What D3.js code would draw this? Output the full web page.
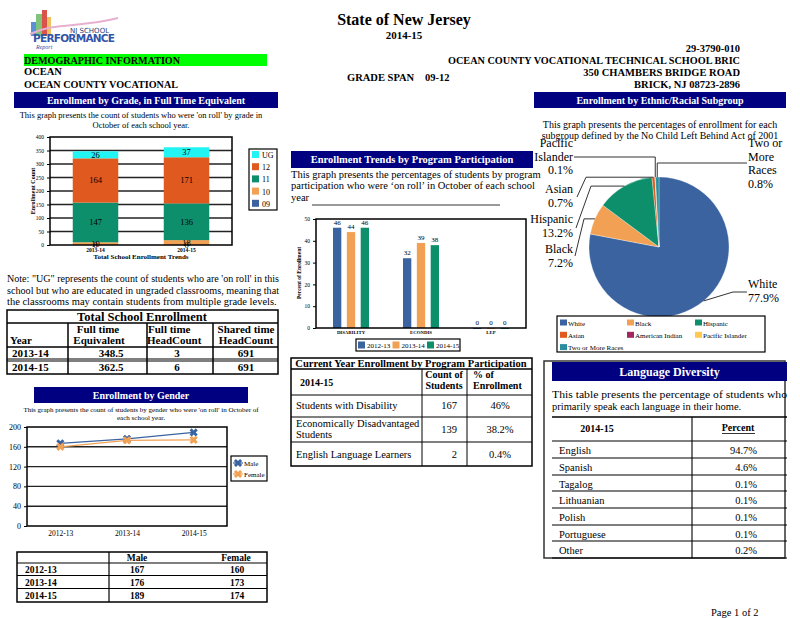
<!DOCTYPE html>
<html>
<head>
<meta charset="utf-8">
<script src="https://cdn.jsdelivr.net/npm/d3@7"></script>
<style>
  body { margin: 0; background: #fff; }
  svg { display: block; }
  text { font-family: "Liberation Serif", "Times New Roman", serif; fill: #000; }
</style>
</head>
<body>
<svg id="page" width="800" height="618"></svg>
<script>
// ---- data ----
const gradeYears = ["2013-14", "2014-15"];
const gradeKeys = ["09", "10", "11", "12", "UG"];
const grade09 = [0, 0];
const grade10 = [10, 18];
const grade11 = [147, 136];
const grade12 = [164, 171];
const gradeUG = [26, 37];
const gradeTicks = [0, 50, 100, 150, 200, 250, 300, 350, 400];

const tseYears = ["2013-14", "2014-15"];
const tseFTE = ["348.5", "362.5"];
const tseFullHead = [3, 6];
const tseSharedHead = [691, 691];

const genderYears = ["2012-13", "2013-14", "2014-15"];
const maleCounts = [167, 176, 189];
const femaleCounts = [160, 173, 174];
const genderTicks = [0, 40, 80, 120, 160, 200];

const programCats = ["DISABILITY", "ECONDIS", "LEP"];
const programYears = ["2012-13", "2013-14", "2014-15"];
const pct1213 = [46, 32, 0];
const pct1314 = [44, 39, 0];
const pct1415 = [46, 38, 0];
const programTicks = [0, 10, 20, 30, 40, 50];

const programRows = ["Students with Disability", "Economically Disadvantaged Students", "English Language Learners"];
const programCounts = [167, 139, 2];
const programShares = ["46%", "38.2%", "0.4%"];

const ethnicGroups = ["White", "Black", "Hispanic", "Asian", "American Indian", "Pacific Islander", "Two or More Races"];
const ethnicPct = [77.9, 7.2, 13.2, 0.7, 0, 0.1, 0.8];

const languages = ["English", "Spanish", "Tagalog", "Lithuanian", "Polish", "Portuguese", "Other"];
const languagePct = ["94.7%", "4.6%", "0.1%", "0.1%", "0.1%", "0.1%", "0.2%"];

// ---- colours ----
const navy = "#000080";
const blue = "#3a63a0", orange = "#f2a154", green = "#0e8f6b", red = "#e0591f", cyan = "#22f4f4";
const gradeColor = { "09": blue, "10": orange, "11": green, "12": red, "UG": cyan };
const ethnicColor = {
  "White": blue, "Black": orange, "Hispanic": green, "Asian": red,
  "American Indian": "#a3275f", "Pacific Islander": "#ffc94f", "Two or More Races": "#2a8d9e"
};
const yearColor = { "2012-13": blue, "2013-14": orange, "2014-15": green };

const svg = d3.select("#page");

// small helper for text
function txt(g, x, y, s, size, opts) {
  opts = opts || {};
  let t = g.append("text").attr("x", x).attr("y", y).text(s)
    .attr("font-size", size)
    .attr("text-anchor", opts.anchor || "start");
  if (opts.bold) t.attr("font-weight", "bold");
  if (opts.fill) t.style("fill", opts.fill);
  if (opts.len) t.attr("textLength", opts.len).attr("lengthAdjust", "spacingAndGlyphs");
  return t;
}
function rect(g, x, y, w, h, fill, stroke, sw) {
  return g.append("rect").attr("x", x).attr("y", y).attr("width", w).attr("height", h)
    .attr("fill", fill || "none").attr("stroke", stroke || "none").attr("stroke-width", sw || 1);
}
function line(g, x1, y1, x2, y2, sw, col) {
  return g.append("line").attr("x1", x1).attr("y1", y1).attr("x2", x2).attr("y2", y2)
    .attr("stroke", col || "#000").attr("stroke-width", sw || 1);
}
function banner(x, y, w, h, s, size) {
  rect(svg, x, y, w, h, navy);
  txt(svg, x + w / 2, y + h / 2 + size * 0.35, s, size, { anchor: "middle", bold: true, fill: "#fff" });
}

// ---- header ----
let logo = svg.append("g");
rect(logo, 31, 22, 5, 14, "#5b8fd6");
rect(logo, 36, 14, 6, 22, "#7fc47a");
rect(logo, 42, 10, 5, 26, "#d9534a");
rect(logo, 47, 17, 4, 19, "#f0c060");
logo.append("path").attr("d", "M30,34 C55,22 80,28 118,18").attr("fill", "none")
  .attr("stroke", "#e8b0d0").attr("stroke-width", 2);
logo.append("text").attr("x", 70).attr("y", 33).text("NJ SCHOOL")
  .attr("font-size", 7).style("font-family", "DejaVu Sans").style("fill", "#2a3f7a");
logo.append("text").attr("x", 33).attr("y", 42).text("PERFORMANCE")
  .attr("font-size", 10.5).attr("font-weight", "bold").attr("textLength", 82)
  .style("font-family", "DejaVu Sans").style("fill", "#3355a8");
logo.append("text").attr("x", 36).attr("y", 49).text("Report")
  .attr("font-size", 6).attr("font-style", "italic").style("fill", "#3355a8");

txt(svg, 404, 25, "State of New Jersey", 16, { anchor: "middle", bold: true });
txt(svg, 404, 39, "2014-15", 11, { anchor: "middle", bold: true });

rect(svg, 24, 54, 243, 12, "#00ff00");
txt(svg, 24, 64, "DEMOGRAPHIC INFORMATION", 10.5, { bold: true, len: 156 });
txt(svg, 24, 75, "OCEAN", 10.5, { bold: true });
txt(svg, 24, 88, "OCEAN COUNTY VOCATIONAL", 10.5, { bold: true, len: 154 });
txt(svg, 347, 81, "GRADE SPAN", 10.5, { bold: true });
txt(svg, 425, 81, "09-12", 10.5, { bold: true });
txt(svg, 740, 52, "29-3790-010", 10.5, { anchor: "end", bold: true });
txt(svg, 740, 64, "OCEAN COUNTY VOCATIONAL TECHNICAL SCHOOL BRIC", 10.5, { anchor: "end", bold: true, len: 292 });
txt(svg, 740, 76, "350 CHAMBERS BRIDGE ROAD", 10.5, { anchor: "end", bold: true });
txt(svg, 740, 88, "BRICK, NJ 08723-2896", 10.5, { anchor: "end", bold: true });

banner(14, 92, 264, 16, "Enrollment by Grade, in Full Time Equivalent", 10);
banner(534, 92, 252, 16, "Enrollment by Ethnic/Racial Subgroup", 10);

// ---- enrollment by grade (stacked bars) ----
txt(svg, 141, 118, "This graph presents the count of students who were 'on roll' by grade in", 8.5, { anchor: "middle" });
txt(svg, 141, 128, "October of each school year.", 8.5, { anchor: "middle" });

let gradeRows = gradeYears.map((y, i) => ({
  year: y, "09": grade09[i], "10": grade10[i], "11": grade11[i], "12": grade12[i], "UG": gradeUG[i]
}));
let xG = d3.scaleBand().domain(gradeYears).range([50, 232]).paddingInner(0.5).paddingOuter(0.25);
let yG = d3.scaleLinear().domain([0, 400]).range([245, 137]);
let gGrade = svg.append("g");
gradeTicks.slice(1, -1).forEach(t => line(gGrade, 50, yG(t), 232, yG(t), 1.6, "#222"));
let stacked = d3.stack().keys(gradeKeys)(gradeRows);
stacked.forEach(layer => {
  gGrade.selectAll(null).data(layer).join("rect")
    .attr("x", d => xG(d.data.year)).attr("width", xG.bandwidth())
    .attr("y", d => yG(d[1])).attr("height", d => yG(d[0]) - yG(d[1]))
    .attr("fill", gradeColor[layer.key]);
});
stacked.forEach(layer => {
  gGrade.selectAll(null).data(layer).join("text")
    .attr("x", d => xG(d.data.year) + xG.bandwidth() / 2)
    .attr("y", d => yG((d[0] + d[1]) / 2) + 3)
    .attr("text-anchor", "middle").attr("font-size", 8.5)
    .text(d => d[1] - d[0]);
});
rect(gGrade, 50, 137, 182, 108, "none", "#000", 1.5);
gGrade.append("g").attr("transform", "translate(50,0)")
  .call(d3.axisLeft(yG).tickValues(gradeTicks).tickSize(3))
  .call(a => { a.select(".domain").remove(); a.selectAll("text").attr("font-size", 5.5).style("font-family", "Liberation Serif"); });
gGrade.append("g").attr("transform", "translate(0,245)")
  .call(d3.axisBottom(xG).tickSize(0).tickPadding(3))
  .call(a => { a.select(".domain").remove(); a.selectAll("text").attr("font-size", 5.5).attr("font-weight", "bold").style("font-family", "Liberation Serif"); });
txt(gGrade, 0, 0, "Enrollment Count", 6, { anchor: "middle", bold: true })
  .attr("transform", "translate(35,191) rotate(-90)");
txt(gGrade, 141, 259, "Total School Enrollment Trends", 7, { anchor: "middle", bold: true });

// grade legend
rect(gGrade, 249, 149, 28, 61, "#fff", "#000", 1.2);
gradeKeys.slice().reverse().forEach((k, i) => {
  rect(gGrade, 252, 151 + i * 12.2, 7, 7, gradeColor[k]);
  txt(gGrade, 262, 158 + i * 12.2, k, 8);
});

// note
txt(svg, 7, 282, "Note: \"UG\" represents the count of students who are 'on roll'  in this", 10.5, { len: 272 });
txt(svg, 7, 294, "school but who are educated in ungraded classrooms, meaning that", 10.5, { len: 272 });
txt(svg, 7, 305, "the classrooms may contain students from multiple grade levels.", 10.5);

// ---- total school enrollment table ----
let gT = svg.append("g");
rect(gT, 7, 310, 271, 64, "none", "#000", 1.5);
line(gT, 7, 323, 278, 323, 1.5);
line(gT, 7, 347, 278, 347, 1.5);
line(gT, 7, 359, 278, 359, 1.2);
line(gT, 7, 361, 278, 361, 1.2);
[68, 147, 213].forEach(x => line(gT, x, 323, x, 374, 1.5));
txt(gT, 142, 321, "Total School Enrollment", 12.5, { anchor: "middle", bold: true });
txt(gT, 10, 344, "Year", 11, { bold: true });
txt(gT, 98, 333, "Full time", 11, { anchor: "middle", bold: true });
txt(gT, 99, 344, "Equivalent", 11, { anchor: "middle", bold: true });
txt(gT, 148, 333, "Full time", 11, { bold: true });
txt(gT, 147, 344, "HeadCount", 11, { bold: true });
txt(gT, 246, 333, "Shared time", 11, { anchor: "middle", bold: true });
txt(gT, 246, 344, "HeadCount", 11, { anchor: "middle", bold: true });
tseYears.forEach((y, i) => {
  let by = 357 + i * 14;
  txt(gT, 12, by, y, 11, { bold: true });
  txt(gT, 111, by, tseFTE[i], 11, { anchor: "middle", bold: true });
  txt(gT, 177, by, tseFullHead[i], 11, { anchor: "middle", bold: true });
  txt(gT, 246, by, tseSharedHead[i], 11, { anchor: "middle", bold: true });
});

// ---- enrollment by gender (lines) ----
banner(34, 387, 214, 16, "Enrollment by Gender", 10);
txt(svg, 141, 412, "This graph presents the count of students by gender who were 'on roll' in October of", 7, { anchor: "middle" });
txt(svg, 141, 420, "each school year.", 7, { anchor: "middle" });
let gG = svg.append("g");
let xS = d3.scalePoint().domain(genderYears).range([27, 227]).padding(0.5);
let yS = d3.scaleLinear().domain([0, 200]).range([526, 427]);
genderTicks.slice(1, -1).forEach(t => line(gG, 27, yS(t), 227, yS(t), 1.4, "#222"));
rect(gG, 27, 427, 200, 99, "none", "#000", 1.5);
gG.append("g").attr("transform", "translate(27,0)")
  .call(d3.axisLeft(yS).tickValues(genderTicks).tickSize(3))
  .call(a => { a.select(".domain").remove(); a.selectAll("text").attr("font-size", 8).style("font-family", "Liberation Serif"); });
gG.append("g").attr("transform", "translate(0,526)")
  .call(d3.axisBottom(xS).tickSize(0).tickPadding(5))
  .call(a => { a.select(".domain").remove(); a.selectAll("text").attr("font-size", 7.5).style("font-family", "Liberation Serif"); });
let marker = d3.symbol().type(d3.symbolCross).size(42);
[[maleCounts, blue, "Male"], [femaleCounts, orange, "Female"]].forEach(([vals, col]) => {
  gG.append("path").datum(vals)
    .attr("d", d3.line().x((d, i) => xS(genderYears[i])).y(d => yS(d)))
    .attr("fill", "none").attr("stroke", col).attr("stroke-width", 1.2);
  gG.selectAll(null).data(vals).join("path")
    .attr("d", marker)
    .attr("transform", (d, i) => "translate(" + xS(genderYears[i]) + "," + yS(d) + ") rotate(45)")
    .attr("fill", col);
});
rect(gG, 231, 456, 36, 25, "#fff", "#000", 1.2);
[["Male", blue], ["Female", orange]].forEach(([s, col], i) => {
  let yy = 463 + i * 11;
  line(gG, 233, yy, 243, yy, 1.2, col);
  gG.append("path").attr("d", marker).attr("transform", "translate(238," + yy + ") rotate(45)").attr("fill", col);
  txt(gG, 244, yy + 2.5, s, 7);
});

// gender table
let gGT = svg.append("g");
rect(gGT, 17, 552, 250, 50, "none", "#000", 1.5);
[563, 575.5, 588.5].forEach(y => line(gGT, 17, y, 267, y, 1.2));
line(gGT, 109, 552, 109, 602, 1.2);
txt(gGT, 137, 561, "Male", 9.5, { anchor: "middle", bold: true });
txt(gGT, 236, 561, "Female", 9.5, { anchor: "middle", bold: true });
genderYears.forEach((y, i) => {
  let by = 573 + i * 12.9;
  txt(gGT, 25, by, y, 9.5, { bold: true });
  txt(gGT, 137, by, maleCounts[i], 9.5, { anchor: "middle", bold: true });
  txt(gGT, 237, by, femaleCounts[i], 9.5, { anchor: "middle", bold: true });
});

// ---- program participation (grouped bars) ----
banner(291, 151, 242, 17, "Enrollment Trends by Program Participation", 10.5);
txt(svg, 291, 178, "This graph presents the percentages of students by program", 10.5);
txt(svg, 291, 189, "participation who were \u2018on roll\u2019 in October of each school", 10.5);
txt(svg, 291, 201, "year", 10.5);
line(svg, 312, 205, 500, 205, 0.8);

let gP = svg.append("g");
let x0 = d3.scaleBand().domain(programCats).range([316, 526]);
let x1 = d3.scaleBand().domain(programYears).range([17, 53]).paddingInner(0.4);
let yP = d3.scaleLinear().domain([0, 50]).range([328, 219]);
let pctByYear = { "2012-13": pct1213, "2013-14": pct1314, "2014-15": pct1415 };
programYears.forEach(yr => {
  let vals = pctByYear[yr];
  gP.selectAll(null).data(vals).join("rect")
    .attr("x", (d, i) => x0(programCats[i]) + x1(yr)).attr("width", x1.bandwidth())
    .attr("y", d => yP(d)).attr("height", d => Math.max(1, yP(0) - yP(d)))
    .attr("fill", yearColor[yr]);
  gP.selectAll(null).data(vals).join("text")
    .attr("x", (d, i) => x0(programCats[i]) + x1(yr) + x1.bandwidth() / 2)
    .attr("y", d => yP(d) - 3)
    .attr("text-anchor", "middle").attr("font-size", 7).text(d => d);
});
rect(gP, 316, 219, 210, 109, "none", "#000", 1.5);
gP.append("g").attr("transform", "translate(316,0)")
  .call(d3.axisLeft(yP).tickValues(programTicks).tickSize(3))
  .call(a => { a.select(".domain").remove(); a.selectAll("text").attr("font-size", 5.5).style("font-family", "Liberation Serif"); });
gP.append("g").attr("transform", "translate(0,328)")
  .call(d3.axisBottom(x0).tickSize(0).tickPadding(3))
  .call(a => { a.select(".domain").remove(); a.selectAll("text").attr("font-size", 4.8).attr("font-weight", "bold").style("font-family", "Liberation Serif"); });
txt(gP, 0, 0, "Percent of Enrollment", 5.5, { anchor: "middle", bold: true })
  .attr("transform", "translate(301,273) rotate(-90)");
rect(gP, 356, 339, 104, 12, "#fff", "#000", 1.2);
programYears.forEach((yr, i) => {
  let xx = 358 + i * 34.5;
  rect(gP, xx, 341.5, 7, 7, yearColor[yr]);
  txt(gP, xx + 9, 348, yr, 7);
});

// current year program table
let gC = svg.append("g");
rect(gC, 291, 358, 241, 108, "none", "#000", 1.5);
line(gC, 291, 369, 532, 369, 1.5);
[395, 417, 442].forEach(y => line(gC, 291, y, 532, y, 1));
[422, 467].forEach(x => line(gC, x, 369, x, 466, 1));
txt(gC, 411, 367, "Current Year Enrollment by Program Participation", 10.5, { anchor: "middle", bold: true });
txt(gC, 300, 386, "2014-15", 10, { bold: true });
txt(gC, 444, 378, "Count of", 10, { anchor: "middle", bold: true });
txt(gC, 444, 389, "Students", 10, { anchor: "middle", bold: true });
txt(gC, 473, 378, "% of", 10, { bold: true });
txt(gC, 473, 389, "Enrollment", 10, { bold: true });
txt(gC, 296, 409, programRows[0], 10.5);
txt(gC, 296, 427, "Economically Disadvantaged", 10.5);
txt(gC, 296, 438, "Students", 10.5);
txt(gC, 296, 458, programRows[2], 10.5);
[409, 433, 458].forEach((by, i) => {
  txt(gC, 457, by, programCounts[i], 10.5, { anchor: "end" });
  txt(gC, 500, by, programShares[i], 10.5, { anchor: "middle" });
});

// ---- ethnic pie ----
txt(svg, 660, 128, "This graph presents the percentages of enrollment for each", 10, { anchor: "middle" });
txt(svg, 660, 139, "subgroup defined by the No Child Left Behind Act of 2001", 10, { anchor: "middle" });
let cx = 659, cy = 247, r = 70;
let gE = svg.append("g");
let ethnicRows = ethnicGroups.map((g, i) => ({ group: g, pct: ethnicPct[i] }));
let arcs = d3.pie().sort(null).value(d => d.pct)(ethnicRows);
let arc = d3.arc().innerRadius(0).outerRadius(r);
gE.append("g").attr("transform", "translate(" + cx + "," + cy + ")")
  .selectAll("path").data(arcs).join("path")
  .attr("d", arc).attr("fill", d => ethnicColor[d.data.group])
  .attr("stroke", "#fff").attr("stroke-width", 0.3);

// label layout: text lines, anchor point and line end, elbow style
const pieLabels = {
  "Pacific Islander": { lines: ["Pacific", "Islander", "0.1%"], tx: 573, ty: 147, anchor: "end", end: [574, 157], elbow: "vert" },
  "Asian": { lines: ["Asian", "0.7%"], tx: 573, ty: 193, anchor: "end", end: [577, 197], elbow: 586 },
  "Hispanic": { lines: ["Hispanic", "13.2%"], tx: 573, ty: 223, anchor: "end", end: [576, 228], elbow: 591 },
  "Black": { lines: ["Black", "7.2%"], tx: 573, ty: 253, anchor: "end", end: [575, 256], elbow: 584 },
  "Two or More Races": { lines: ["Two or", "More", "Races", "0.8%"], tx: 748, ty: 147, anchor: "start", end: [747, 163], elbow: "vert" },
  "White": { lines: ["White", "77.9%"], tx: 748, ty: 288, anchor: "start", end: [747, 292], elbow: "white" }
};
arcs.forEach(a => {
  let L = pieLabels[a.data.group];
  if (!L) return;
  let mid = (a.startAngle + a.endAngle) / 2;
  let px = cx + r * Math.sin(mid), py = cy - r * Math.cos(mid);
  let pts;
  if (L.elbow === "vert") pts = [L.end, [px, L.end[1]], [px, py]];
  else if (L.elbow === "white") pts = [L.end, [L.end[0] - 14, L.end[1]], [px, py]];
  else pts = [L.end, [L.elbow, py], [px, py]];
  gE.append("path").attr("d", d3.line()(pts)).attr("fill", "none")
    .attr("stroke", "#333").attr("stroke-width", 1);
  L.lines.forEach((s, i) => txt(gE, L.tx, L.ty + i * 13.5, s, 12, { anchor: L.anchor }));
});

// pie legend
rect(gE, 557, 316, 208, 36, "#fff", "#000", 1.2);
ethnicGroups.forEach((g, i) => {
  let col = i % 3, row = Math.floor(i / 3);
  let xx = [560, 627, 695][col], yy = 319.5 + row * 12.3;
  rect(gE, xx, yy, 7, 6, ethnicColor[g]);
  txt(gE, xx + 8, yy + 6, g, 7);
});

// ---- language diversity ----
let gL = svg.append("g");
rect(gL, 544, 361, 241, 197, "none", "#333", 1.5);
banner(552, 362, 235, 19, "Language Diversity", 12);
txt(gL, 552, 398, "This table presents the percentage of students who", 10.5, { len: 235 });
txt(gL, 552, 410, "primarily speak each language in their home.", 10.5);
let rowLines = [417, 441, 458, 475, 491, 508, 525, 541, 558];
rowLines.forEach((y, i) => line(gL, 552, y, 787, y, i === 0 ? 1.3 : 1.1));
line(gL, 692, 417, 692, 558, 1.1);
txt(gL, 597, 432, "2014-15", 10, { anchor: "middle", bold: true });
txt(gL, 738, 431, "Percent", 10, { anchor: "middle", bold: true });
line(gL, 722, 433.5, 755, 433.5, 0.8);
languages.forEach((s, i) => {
  let by = rowLines[i + 1] + 12.5;
  txt(gL, 559, by, s, 10.5);
  txt(gL, 757, by, languagePct[i], 10.5, { anchor: "end" });
});

txt(svg, 711, 616, "Page 1 of 2", 10.5);
</script>
</body>
</html>
